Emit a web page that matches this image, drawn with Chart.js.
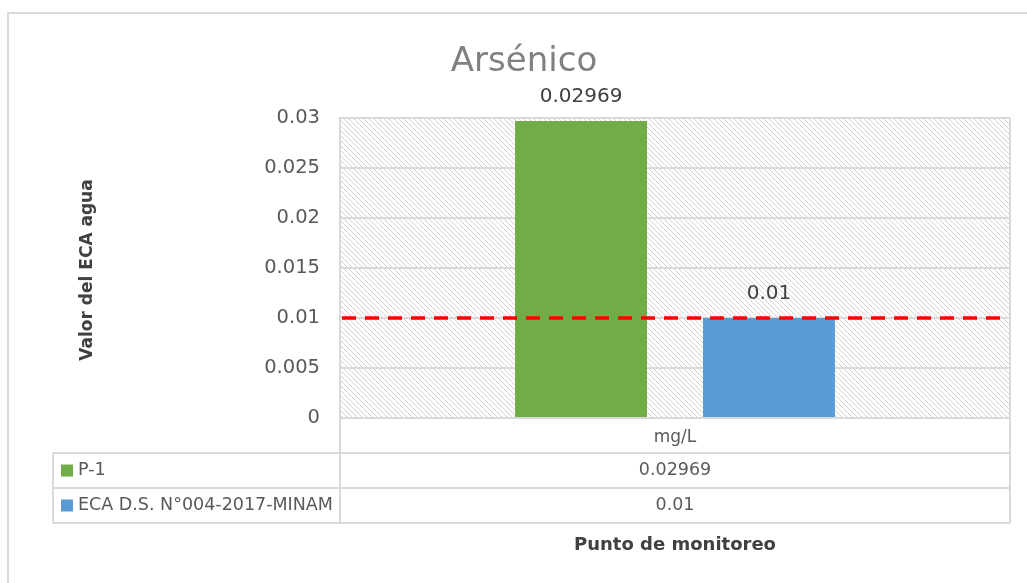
<!DOCTYPE html>
<html>
<head>
<meta charset="utf-8">
<script src="https://cdn.jsdelivr.net/npm/chart.js@4"></script>
<style>
  html, body { margin: 0; padding: 0; background: #ffffff; }
  canvas { display: block; }
</style>
</head>
<body>
<canvas id="chart" width="1027" height="583"></canvas>
<script>
// Arsenic concentration at the monitoring point vs. the water quality standard
const categories = ['mg/L'];
const seriesNames = ['P-1', 'ECA D.S. N°004-2017-MINAM'];
const p1Values = [0.02969];
const ecaValues = [0.01];
const ecaLimit = 0.01;
const yTicks = [0, 0.005, 0.01, 0.015, 0.02, 0.025, 0.03];

const chartTitle = 'Arsénico';
const yTitle = 'Valor del ECA agua';
const xTitle = 'Punto de monitoreo';

const FONT = 'DejaVu Sans';
const GRID = '#d9d9d9';
const colors = ['#70ad47', '#5b9bd5'];

// diagonal hatch used as plot background
function makeHatch() {
  const s = 5;
  const c = document.createElement('canvas');
  c.width = s; c.height = s;
  const g = c.getContext('2d');
  g.strokeStyle = '#d2d2d2';
  g.lineWidth = 1;
  g.beginPath();
  g.moveTo(-1, -1); g.lineTo(s + 1, s + 1);
  g.moveTo(-1, s - 1); g.lineTo(1, s + 1);
  g.moveTo(s - 1, -1); g.lineTo(s + 1, 1);
  g.stroke();
  return g.createPattern(c, 'repeat');
}

const decorPlugin = {
  id: 'decor',
  beforeDraw(chart) {
    const ctx = chart.ctx;
    const a = chart.chartArea;
    ctx.save();
    ctx.fillStyle = '#ffffff';
    ctx.fillRect(0, 0, chart.width, chart.height);
    // outer frame
    ctx.strokeStyle = GRID;
    ctx.lineWidth = 2;
    ctx.beginPath();
    ctx.moveTo(8, chart.height);
    ctx.lineTo(8, 13);
    ctx.lineTo(chart.width, 13);
    ctx.stroke();
    // plot background
    ctx.fillStyle = makeHatch();
    ctx.fillRect(a.left, a.top, a.right - a.left, a.bottom - a.top);
    ctx.restore();
  },
  afterDatasetsDraw(chart) {
    const ctx = chart.ctx;
    const a = chart.chartArea;
    const y = chart.scales.y;
    ctx.save();
    // value labels above bars
    ctx.font = '20px "' + FONT + '"';
    ctx.fillStyle = '#404040';
    ctx.textAlign = 'center';
    ctx.textBaseline = 'middle';
    chart.data.datasets.forEach((ds, i) => {
      chart.getDatasetMeta(i).data.forEach((bar, j) => {
        ctx.fillText(String(ds.data[j]), bar.x, bar.y - 24);
      });
    });
    // standard limit line
    const ly = y.getPixelForValue(ecaLimit);
    ctx.strokeStyle = '#ff0000';
    ctx.lineWidth = 3.5;
    ctx.setLineDash([14, 9]);
    ctx.beginPath();
    ctx.moveTo(a.left + 2, ly);
    ctx.lineTo(a.right - 4, ly);
    ctx.stroke();
    ctx.restore();
  },
  afterDraw(chart) {
    const ctx = chart.ctx;
    const a = chart.chartArea;
    const rowH = 35;
    const tableLeft = 53;
    const r1 = a.bottom + rowH;
    const r2 = r1 + rowH;
    const r3 = r2 + rowH;
    const midX = (a.left + a.right) / 2;
    ctx.save();
    // plot right edge and data table grid
    ctx.strokeStyle = GRID;
    ctx.lineWidth = 2;
    ctx.beginPath();
    ctx.moveTo(a.right, a.top);
    ctx.lineTo(a.right, r3);
    ctx.moveTo(a.left, a.bottom);
    ctx.lineTo(a.left, r3);
    [r1, r2, r3].forEach(ry => { ctx.moveTo(tableLeft, ry); ctx.lineTo(a.right, ry); });
    ctx.moveTo(a.left, a.bottom);
    ctx.lineTo(a.right, a.bottom);
    ctx.moveTo(tableLeft, r1);
    ctx.lineTo(tableLeft, r3);
    ctx.stroke();

    // data table rows
    const rows = [p1Values, ecaValues];
    ctx.font = '17.5px "' + FONT + '"';
    ctx.textBaseline = 'middle';
    rows.forEach((vals, i) => {
      const cy = r1 + rowH * i + rowH / 2;
      ctx.fillStyle = colors[i];
      ctx.fillRect(61, cy - 6, 12, 12);
      ctx.fillStyle = '#595959';
      ctx.textAlign = 'left';
      ctx.fillText(seriesNames[i], 78, cy);
      ctx.textAlign = 'center';
      ctx.fillText(String(vals[0]), midX, cy);
    });

    // titles
    ctx.fillStyle = '#808080';
    ctx.font = '34px "' + FONT + '"';
    ctx.textAlign = 'center';
    ctx.fillText(chartTitle, 524, 62);

    ctx.fillStyle = '#404040';
    ctx.font = 'bold 18px "' + FONT + '"';
    ctx.fillText(xTitle, midX, 545);

    ctx.translate(88, 270);
    ctx.rotate(-Math.PI / 2);
    ctx.font = 'bold 17px "' + FONT + '"';
    ctx.fillText(yTitle, 0, 0);
    ctx.restore();
  }
};

Chart.defaults.font.family = FONT;

new Chart(document.getElementById('chart'), {
  type: 'bar',
  data: {
    labels: categories,
    datasets: [
      { label: seriesNames[0], data: p1Values, backgroundColor: colors[0] },
      { label: seriesNames[1], data: ecaValues, backgroundColor: colors[1] }
    ]
  },
  options: {
    responsive: false,
    devicePixelRatio: 1,
    animation: false,
    categoryPercentage: 0.561,
    barPercentage: 0.702,
    layout: { padding: { top: 118, right: 17, left: 0, bottom: 0 } },
    plugins: {
      legend: { display: false },
      title: { display: false },
      tooltip: { enabled: false }
    },
    scales: {
      x: {
        afterFit(s) { s.height = 165; },
        grid: { display: false, drawTicks: false },
        border: { display: false },
        ticks: { color: '#595959', font: { size: 17 }, padding: 9 }
      },
      y: {
        min: yTicks[0],
        max: yTicks[yTicks.length - 1],
        afterFit(s) { s.width = 340; },
        afterBuildTicks(s) { s.ticks = yTicks.map(v => ({ value: v })); },
        grid: { color: GRID, lineWidth: 2, drawTicks: false },
        border: { display: true, color: GRID, width: 2 },
        ticks: {
          color: '#595959',
          font: { size: 19.5 },
          padding: 20,
          callback: v => String(Number(v.toFixed(3)))
        }
      }
    }
  },
  plugins: [decorPlugin]
});
</script>
</body>
</html>
